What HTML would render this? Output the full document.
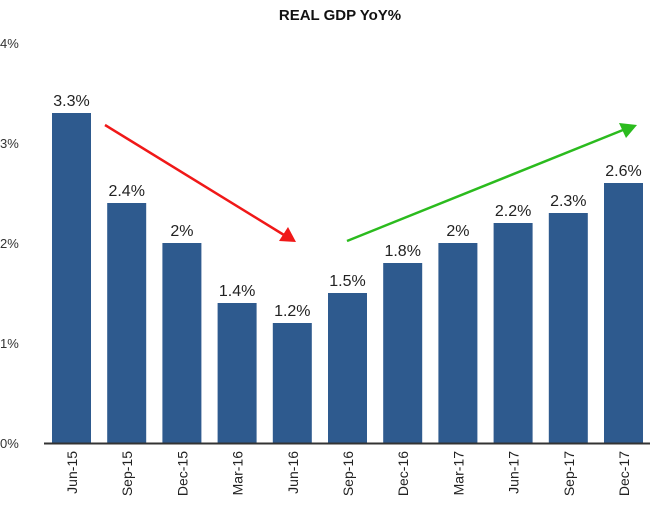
<!DOCTYPE html>
<html><head><meta charset="utf-8"><style>
html,body{margin:0;padding:0;background:#fff;}
svg{display:block;font-family:"Liberation Sans",Arial,sans-serif;}
</style></head><body>
<svg width="650" height="505" viewBox="0 0 650 505">
<text x="340" y="20" text-anchor="middle" font-size="15" font-weight="bold" fill="#111">REAL GDP YoY%</text>
<g font-size="13" fill="#333">
<text x="0" y="48">4%</text>
<text x="0" y="148">3%</text>
<text x="0" y="248">2%</text>
<text x="0" y="348">1%</text>
<text x="0" y="448">0%</text>
</g>
<g fill="#2e5a8e" id="bars"></g>
<line x1="44" y1="443.5" x2="650" y2="443.5" stroke="#333" stroke-width="2"/>
<g id="labels" font-size="16" fill="#222" text-anchor="middle"></g>
<g id="xl" font-size="14" fill="#222"></g>
<line x1="105" y1="125" x2="284" y2="235" stroke="#f01818" stroke-width="2.5"/>
<polygon points="296,242 279,241 288,227" fill="#f01818"/>
<line x1="347" y1="241" x2="623" y2="130" stroke="#2bbb1e" stroke-width="2.5"/>
<polygon points="637,125 626,138 619,123" fill="#2bbb1e"/>
<script>
var v=[3.3,2.4,2,1.4,1.2,1.5,1.8,2,2.2,2.3,2.6],t=["3.3%","2.4%","2%","1.4%","1.2%","1.5%","1.8%","2%","2.2%","2.3%","2.6%"],
n=["Jun-15","Sep-15","Dec-15","Mar-16","Jun-16","Sep-16","Dec-16","Mar-17","Jun-17","Sep-17","Dec-17"];
var ns="http://www.w3.org/2000/svg",b=document.getElementById("bars"),l=document.getElementById("labels"),x=document.getElementById("xl");
for(var i=0;i<11;i++){var x0=52+i*55.2,h=v[i]*100;
var r=document.createElementNS(ns,"rect");r.setAttribute("x",x0);r.setAttribute("y",443-h);r.setAttribute("width",39);r.setAttribute("height",h);b.appendChild(r);
var s=document.createElementNS(ns,"text");s.setAttribute("x",x0+19.5);s.setAttribute("y",443-h-7);s.textContent=t[i];l.appendChild(s);
var q=document.createElementNS(ns,"text");q.setAttribute("transform","translate("+(x0+25)+",451) rotate(-90)");q.setAttribute("text-anchor","end");q.textContent=n[i];x.appendChild(q);}
</script>
</svg>
</body></html>
